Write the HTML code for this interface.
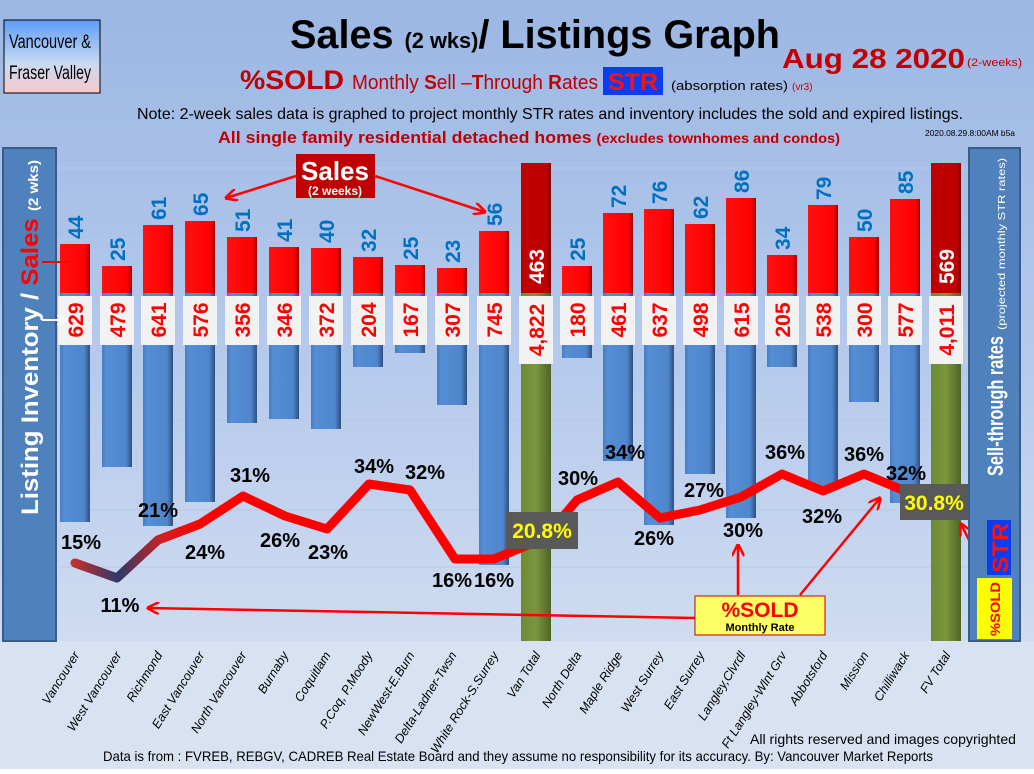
<!DOCTYPE html>
<html><head><meta charset="utf-8"><style>
html,body{margin:0;padding:0;}
body{width:1034px;height:769px;overflow:hidden;font-family:"Liberation Sans",sans-serif;}
</style></head><body>
<svg width="1034" height="769" viewBox="0 0 1034 769" xmlns="http://www.w3.org/2000/svg" font-family="Liberation Sans, sans-serif">
<defs>
<linearGradient id="bg" x1="0" y1="0" x2="0" y2="1">
<stop offset="0" stop-color="#9cb7e4"/><stop offset="0.5" stop-color="#b7cbec"/><stop offset="1" stop-color="#dbe4f3"/></linearGradient>
<linearGradient id="tb" x1="0" y1="0" x2="0" y2="1">
<stop offset="0" stop-color="#5e9cf6"/><stop offset="0.6" stop-color="#c9daf2"/><stop offset="1" stop-color="#f7c9cb"/></linearGradient>
<linearGradient id="blue" x1="0" y1="0" x2="1" y2="0">
<stop offset="0" stop-color="#4a7cc0"/><stop offset="0.15" stop-color="#558ed5"/><stop offset="0.8" stop-color="#4f86cc"/><stop offset="1" stop-color="#2c4f80"/></linearGradient>
<linearGradient id="red" x1="0" y1="0" x2="1" y2="0">
<stop offset="0" stop-color="#ff1010"/><stop offset="0.85" stop-color="#ff0000"/><stop offset="1" stop-color="#a00000"/></linearGradient>
<linearGradient id="dred" x1="0" y1="0" x2="1" y2="0">
<stop offset="0" stop-color="#c00000"/><stop offset="0.85" stop-color="#c00000"/><stop offset="1" stop-color="#800000"/></linearGradient>
<linearGradient id="grn" x1="0" y1="0" x2="1" y2="0">
<stop offset="0" stop-color="#6f8a35"/><stop offset="0.5" stop-color="#7a963e"/><stop offset="1" stop-color="#4f6326"/></linearGradient>
<linearGradient id="ln" x1="75" y1="0" x2="200" y2="0" gradientUnits="userSpaceOnUse">
<stop offset="0" stop-color="#c03030"/><stop offset="0.35" stop-color="#2a3a6a"/><stop offset="0.7" stop-color="#d02020"/><stop offset="1" stop-color="#ff0000"/></linearGradient>
<marker id="ah" viewBox="0 0 10 10" refX="9" refY="5" markerWidth="5" markerHeight="5" orient="auto"><path d="M0,0 L10,5 L0,10" fill="none" stroke="#ff0000" stroke-width="2"/></marker>
<marker id="aw" viewBox="0 0 10 10" refX="9" refY="5" markerWidth="5" markerHeight="5" orient="auto"><path d="M0,0 L10,5 L0,10" fill="none" stroke="#ffffff" stroke-width="2"/></marker>
</defs>
<rect width="1034" height="769" fill="url(#bg)"/>
<rect x="0" y="641" width="1034" height="128" fill="#d9e2f2"/>
<g stroke="#b9c9e6" stroke-width="1">
<line x1="58" y1="168" x2="968" y2="168"/><line x1="58" y1="240" x2="968" y2="240"/><line x1="58" y1="330" x2="968" y2="330"/><line x1="58" y1="420" x2="968" y2="420"/><line x1="58" y1="510" x2="968" y2="510"/><line x1="58" y1="567" x2="968" y2="567"/>
</g>
<!-- header -->
<rect x="4" y="20" width="96" height="73" fill="url(#tb)" stroke="#000" stroke-width="1"/>
<text x="9" y="48" font-size="19" fill="#000" textLength="82" lengthAdjust="spacingAndGlyphs">Vancouver &amp;</text>
<text x="9" y="79" font-size="19" fill="#000" textLength="82" lengthAdjust="spacingAndGlyphs">Fraser Valley</text>
<text x="290" y="48" font-size="40" font-weight="bold" fill="#000" textLength="490" lengthAdjust="spacingAndGlyphs">Sales <tspan font-size="22">(2 wks)</tspan>/ Listings Graph</text>
<text x="782" y="68" font-size="28" font-weight="bold" fill="#c00000" textLength="183" lengthAdjust="spacingAndGlyphs">Aug 28  2020</text>
<text x="967" y="66" font-size="11" fill="#c00000" textLength="55" lengthAdjust="spacingAndGlyphs">(2-weeks)</text>
<text x="240" y="89" font-size="27" font-weight="bold" fill="#c00000" textLength="104" lengthAdjust="spacingAndGlyphs">%SOLD</text>
<text x="352" y="89" font-size="20" fill="#c00000" textLength="246" lengthAdjust="spacingAndGlyphs">Monthly <tspan font-weight="bold">S</tspan>ell –<tspan font-weight="bold">T</tspan>hrough <tspan font-weight="bold">R</tspan>ates</text>
<rect x="603" y="67" width="60" height="28" fill="#0a3cf0"/>
<text x="608" y="90" font-size="24" font-weight="bold" fill="#ff1010" textLength="50" lengthAdjust="spacingAndGlyphs">STR</text>
<text x="671" y="90" font-size="13" fill="#000" textLength="117" lengthAdjust="spacingAndGlyphs">(absorption rates)</text>
<text x="792" y="90" font-size="10" fill="#c00000">(vr3)</text>
<text x="550" y="119" font-size="16" fill="#000" text-anchor="middle" textLength="826" lengthAdjust="spacingAndGlyphs">Note: 2-week sales data is graphed to project monthly STR rates and inventory includes the sold and expired listings.</text>
<text x="218" y="143" font-size="17" font-weight="bold" fill="#c00000" textLength="622" lengthAdjust="spacingAndGlyphs">All single family residential detached homes <tspan font-size="14">(excludes townhomes and condos)</tspan></text>
<text x="925" y="136" font-size="8" fill="#000" textLength="90" lengthAdjust="spacingAndGlyphs">2020.08.29.8:00AM b5a</text>

<g fill="url(#red)">
<rect x="60" y="244" width="30" height="49"/><rect x="102" y="266" width="30" height="27"/><rect x="143" y="225" width="30" height="68"/><rect x="185" y="221" width="30" height="72"/><rect x="227" y="237" width="30" height="56"/><rect x="269" y="247" width="30" height="46"/><rect x="311" y="248" width="30" height="45"/><rect x="353" y="257" width="30" height="36"/><rect x="395" y="265" width="30" height="28"/><rect x="437" y="268" width="30" height="25"/><rect x="479" y="231" width="30" height="62"/>
<rect x="562" y="266" width="30" height="27"/><rect x="603" y="213" width="30" height="80"/><rect x="644" y="209" width="30" height="84"/><rect x="685" y="224" width="30" height="69"/><rect x="726" y="198" width="30" height="95"/><rect x="767" y="255" width="30" height="38"/><rect x="808" y="205" width="30" height="88"/><rect x="849" y="237" width="30" height="56"/><rect x="890" y="199" width="30" height="94"/>
</g>
<rect x="521" y="163" width="30" height="130" fill="url(#dred)"/>
<rect x="931" y="163" width="30" height="130" fill="url(#dred)"/>
<g fill="url(#blue)">
<rect x="60" y="293" width="30" height="229"/><rect x="102" y="293" width="30" height="174"/><rect x="143" y="293" width="30" height="233"/><rect x="185" y="293" width="30" height="209"/><rect x="227" y="293" width="30" height="130"/><rect x="269" y="293" width="30" height="126"/><rect x="311" y="293" width="30" height="136"/><rect x="353" y="293" width="30" height="74"/><rect x="395" y="293" width="30" height="60"/><rect x="437" y="293" width="30" height="112"/><rect x="479" y="293" width="30" height="272"/>
<rect x="562" y="293" width="30" height="65"/><rect x="603" y="293" width="30" height="168"/><rect x="644" y="293" width="30" height="232"/><rect x="685" y="293" width="30" height="181"/><rect x="726" y="293" width="30" height="225"/><rect x="767" y="293" width="30" height="74"/><rect x="808" y="293" width="30" height="197"/><rect x="849" y="293" width="30" height="109"/><rect x="890" y="293" width="30" height="210"/>
</g>
<rect x="521" y="293" width="30" height="348" fill="url(#grn)"/>
<rect x="931" y="293" width="30" height="348" fill="url(#grn)"/>
<g fill="#f2f2f2">
<rect x="58" y="296" width="34" height="49"/><rect x="100" y="296" width="34" height="49"/><rect x="141" y="296" width="34" height="49"/><rect x="183" y="296" width="34" height="49"/><rect x="225" y="296" width="34" height="49"/><rect x="267" y="296" width="34" height="49"/><rect x="309" y="296" width="34" height="49"/><rect x="351" y="296" width="34" height="49"/><rect x="393" y="296" width="34" height="49"/><rect x="435" y="296" width="34" height="49"/><rect x="477" y="296" width="34" height="49"/><rect x="519" y="296" width="34" height="68"/>
<rect x="560" y="296" width="34" height="49"/><rect x="601" y="296" width="34" height="49"/><rect x="642" y="296" width="34" height="49"/><rect x="683" y="296" width="34" height="49"/><rect x="724" y="296" width="34" height="49"/><rect x="765" y="296" width="34" height="49"/><rect x="806" y="296" width="34" height="49"/><rect x="847" y="296" width="34" height="49"/><rect x="888" y="296" width="34" height="49"/><rect x="929" y="296" width="34" height="68"/>
</g>
<g font-size="21" font-weight="bold" fill="#ff0000" text-anchor="middle">
<text transform="translate(83,320) rotate(-90)">629</text><text transform="translate(125,320) rotate(-90)">479</text><text transform="translate(166,320) rotate(-90)">641</text><text transform="translate(208,320) rotate(-90)">576</text><text transform="translate(250,320) rotate(-90)">356</text><text transform="translate(292,320) rotate(-90)">346</text><text transform="translate(334,320) rotate(-90)">372</text><text transform="translate(376,320) rotate(-90)">204</text><text transform="translate(418,320) rotate(-90)">167</text><text transform="translate(460,320) rotate(-90)">307</text><text transform="translate(502,320) rotate(-90)">745</text><text transform="translate(544,330) rotate(-90)">4,822</text>
<text transform="translate(585,320) rotate(-90)">180</text><text transform="translate(626,320) rotate(-90)">461</text><text transform="translate(667,320) rotate(-90)">637</text><text transform="translate(708,320) rotate(-90)">498</text><text transform="translate(749,320) rotate(-90)">615</text><text transform="translate(790,320) rotate(-90)">205</text><text transform="translate(831,320) rotate(-90)">538</text><text transform="translate(872,320) rotate(-90)">300</text><text transform="translate(913,320) rotate(-90)">577</text><text transform="translate(954,330) rotate(-90)">4,011</text>
</g>
<g font-size="21" font-weight="bold" fill="#0070c0">
<text transform="translate(83,239) rotate(-90)">44</text><text transform="translate(125,261) rotate(-90)">25</text><text transform="translate(166,220) rotate(-90)">61</text><text transform="translate(208,216) rotate(-90)">65</text><text transform="translate(250,232) rotate(-90)">51</text><text transform="translate(292,242) rotate(-90)">41</text><text transform="translate(334,243) rotate(-90)">40</text><text transform="translate(376,252) rotate(-90)">32</text><text transform="translate(418,260) rotate(-90)">25</text><text transform="translate(460,263) rotate(-90)">23</text><text transform="translate(502,226) rotate(-90)">56</text>
<text transform="translate(585,261) rotate(-90)">25</text><text transform="translate(626,208) rotate(-90)">72</text><text transform="translate(667,204) rotate(-90)">76</text><text transform="translate(708,219) rotate(-90)">62</text><text transform="translate(749,193) rotate(-90)">86</text><text transform="translate(790,250) rotate(-90)">34</text><text transform="translate(831,200) rotate(-90)">79</text><text transform="translate(872,232) rotate(-90)">50</text><text transform="translate(913,194) rotate(-90)">85</text>
</g>
<g font-size="21" font-weight="bold" fill="#ffffff">
<text transform="translate(544,284) rotate(-90)">463</text><text transform="translate(954,284) rotate(-90)">569</text>
</g>
<polyline points="75,563 117,578 158,540 200,524 243,496 285,516 327,529 369,484 410,490 455,559 494,559 545,538 577,500 618,482 660,518 700,510 741,497 782,474 823,491 864,474 905,491 925,500" fill="none" stroke="#ff0000" stroke-width="9" stroke-linejoin="round"/>
<polyline points="75,563 117,578 158,540 200,524" fill="none" stroke="url(#ln)" stroke-width="9" stroke-linejoin="round" stroke-linecap="round"/>
<g font-size="20" font-weight="bold" fill="#000" text-anchor="middle">
<text x="81" y="549">15%</text><text x="120" y="612">11%</text><text x="158" y="517">21%</text><text x="205" y="559">24%</text><text x="250" y="482">31%</text><text x="280" y="547">26%</text><text x="328" y="559">23%</text><text x="374" y="473">34%</text><text x="425" y="479">32%</text><text x="452" y="587">16%</text><text x="494" y="587">16%</text>
<text x="578" y="485">30%</text><text x="625" y="459">34%</text><text x="654" y="545">26%</text><text x="704" y="497">27%</text><text x="743" y="537">30%</text><text x="785" y="459">36%</text><text x="822" y="523">32%</text><text x="864" y="461">36%</text><text x="906" y="480">32%</text>
</g>
<rect x="506" y="512" width="72" height="37" fill="#595959"/>
<text x="542" y="538" font-size="21" font-weight="bold" fill="#ffff00" text-anchor="middle">20.8%</text>
<rect x="900" y="484" width="68" height="36" fill="#595959"/>
<text x="934" y="510" font-size="21" font-weight="bold" fill="#ffff00" text-anchor="middle">30.8%</text>
<g stroke="#ff0000" stroke-width="2.5" fill="none" marker-end="url(#ah)">
<line x1="695" y1="618" x2="148" y2="608"/>
<line x1="738" y1="595" x2="738" y2="545"/>
<line x1="800" y1="595" x2="880" y2="498"/>
<line x1="988" y1="578" x2="961" y2="524"/>
<line x1="296" y1="176" x2="226" y2="198"/>
<line x1="375" y1="176" x2="485" y2="212"/>
</g>
<rect x="695" y="596" width="130" height="39" fill="#ffff66" stroke="#c00000" stroke-width="1"/>
<text x="760" y="617" font-size="21" font-weight="bold" fill="#ff0000" text-anchor="middle">%SOLD</text>
<text x="760" y="631" font-size="11" font-weight="bold" fill="#000" text-anchor="middle">Monthly Rate</text>
<rect x="296" y="154" width="79" height="44" fill="#c00000"/>
<text x="335" y="180" font-size="26" font-weight="bold" fill="#fff" text-anchor="middle">Sales</text>
<text x="335" y="195" font-size="12" font-weight="bold" fill="#fff" text-anchor="middle">(2 weeks)</text>
<rect x="3" y="148" width="53" height="493" fill="#4f81bd" stroke="#385d8a" stroke-width="2"/>
<text transform="translate(38,515) rotate(-90)" font-size="24" font-weight="bold" fill="#fff" textLength="355" lengthAdjust="spacingAndGlyphs">Listing Inventory / <tspan fill="#ff0000">Sales</tspan> <tspan font-size="14">(2  wks)</tspan></text>
<g stroke="#fff" stroke-width="2" marker-end="url(#aw)"><line x1="42" y1="320" x2="66" y2="320"/></g>
<g stroke="#ff0000" stroke-width="2"><line x1="42" y1="262" x2="68" y2="262"/></g>
<rect x="969" y="148" width="51" height="493" fill="#4f81bd" stroke="#385d8a" stroke-width="2"/>
<text transform="translate(1003,476) rotate(-90)" font-size="22" font-weight="bold" fill="#fff" textLength="140" lengthAdjust="spacingAndGlyphs">Sell-through rates</text>
<text transform="translate(1005,330) rotate(-90)" font-size="10.5" fill="#fff" textLength="172" lengthAdjust="spacingAndGlyphs">(projected monthly STR rates)</text>
<rect x="987" y="520" width="24" height="55" fill="#0a3cf0"/>
<text transform="translate(1008,573) rotate(-90)" font-size="22" font-weight="bold" fill="#ff1010" textLength="50" lengthAdjust="spacingAndGlyphs">STR</text>
<rect x="977" y="578" width="35" height="61" fill="#ffff00"/>
<text transform="translate(1000,636) rotate(-90)" font-size="14" font-weight="bold" fill="#ff0000" textLength="54" lengthAdjust="spacingAndGlyphs">%SOLD</text>
<g font-size="12.5" font-style="italic" fill="#000" text-anchor="end">
<text transform="translate(80,655) rotate(-58)">Vancouver</text>
<text transform="translate(122,655) rotate(-58)">West Vancouver</text>
<text transform="translate(163,655) rotate(-58)">Richmond</text>
<text transform="translate(205,655) rotate(-58)">East Vancouver</text>
<text transform="translate(247,655) rotate(-58)">North Vancouver</text>
<text transform="translate(289,655) rotate(-58)">Burnaby</text>
<text transform="translate(331,655) rotate(-58)">Coquitlam</text>
<text transform="translate(373,655) rotate(-58)">P.Coq, P.Moody</text>
<text transform="translate(415,655) rotate(-58)">NewWest-E.Burn</text>
<text transform="translate(457,655) rotate(-58)">Delta-Ladner-Twsn</text>
<text transform="translate(499,655) rotate(-58)">White Rock-S.Surrey</text>
<text transform="translate(541,655) rotate(-58)">Van Total</text>
<text transform="translate(582,655) rotate(-58)">North Delta</text>
<text transform="translate(623,655) rotate(-58)">Maple Ridge</text>
<text transform="translate(664,655) rotate(-58)">West Surrey</text>
<text transform="translate(705,655) rotate(-58)">East Surrey</text>
<text transform="translate(746,655) rotate(-58)">Langley,Clvrdl</text>
<text transform="translate(787,655) rotate(-58)">Ft Langley-Wlnt Grv</text>
<text transform="translate(828,655) rotate(-58)">Abbotsford</text>
<text transform="translate(869,655) rotate(-58)">Mission</text>
<text transform="translate(910,655) rotate(-58)">Chilliwack</text>
<text transform="translate(951,655) rotate(-58)">FV Total</text>
</g>
<text x="750" y="744" font-size="14" fill="#000" textLength="266" lengthAdjust="spacingAndGlyphs">All rights reserved and  images copyrighted</text>
<text x="103" y="761" font-size="14" fill="#000" textLength="830" lengthAdjust="spacingAndGlyphs">Data is from : FVREB, REBGV, CADREB Real Estate Board and they assume no responsibility for its accuracy. By: Vancouver Market Reports</text>
</svg>
</body></html>
